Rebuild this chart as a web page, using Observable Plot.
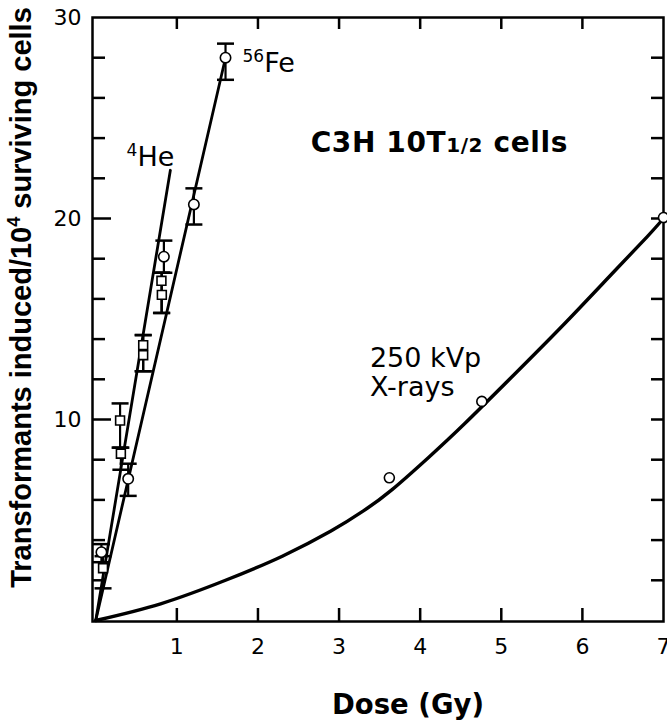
<!DOCTYPE html>
<html><head><meta charset="utf-8">
<script src="https://cdn.jsdelivr.net/npm/d3@7"></script>
<script src="https://cdn.jsdelivr.net/npm/@observablehq/plot@0.6"></script>
<style>html,body{margin:0;padding:0;background:#fff;}</style>
</head><body><div id="chart"></div>
<script>
// ---- tick values / labels ----
const xTickLabels = [1, 2, 3, 4, 5, 6, 7];
const xTickMarks = [1, 2, 3, 4, 5, 6];
const yTickLabels = [10, 20, 30];
const yMinorTicks = [2, 4, 6, 8, 12, 14, 16, 18, 22, 24, 26, 28];
const yMajorTicks = [10, 20];
const yRightTicks = [2, 4, 6, 8, 10, 12, 14, 16, 18, 20, 22, 24, 26, 28];

// ---- open circles with error bars ----
const circDose  = [0.07, 0.40, 0.84, 1.21, 1.60];
const circValue = [3.4, 7.05, 18.1, 20.7, 28.0];
const circLo    = [2.9, 6.2, 17.3, 19.7, 26.9];
const circHi    = [3.8, 7.8, 18.9, 21.5, 28.7];

// ---- open squares with error bars ----
const sqDose  = [0.09, 0.30, 0.31, 0.585, 0.585, 0.81, 0.815];
const sqValue = [2.6, 9.95, 8.3, 13.7, 13.2, 16.9, 16.2];
const sqLo    = [1.6, 8.6, 7.5, 12.4, 12.4, 15.3, 15.3];
const sqHi    = [3.2, 10.8, 8.6, 14.2, 14.2, 17.3, 17.3];

// ---- fitted straight lines ----
const heLineDose = [0, 0.92];
const heLineValue = [0, 22.4];
const feLineDose = [0, 1.60];
const feLineValue = [0, 28.0];

// ---- 250 kVp X-rays ----
const xrDose  = [3.62, 4.76, 7.0];
const xrValue = [7.1, 10.9, 20.05];
const xrCurveDose  = [0, 0.8, 1.6, 2.3, 2.9, 3.3, 3.65, 4.1, 4.55, 5.2, 5.8, 6.4, 6.8, 7.0];
const xrCurveValue = [0, 0.83, 2.0, 3.2, 4.45, 5.45, 6.5, 8.1, 9.8, 12.4, 14.85, 17.4, 19.1, 20.0];

// ---- annotations ----
const labelText = ["⁵⁶Fe", "⁴He", "250 kVp", "X-rays"];
const labelDose = [1.81, 0.38, 3.38, 3.38];
const labelValue = [27.3, 22.6, 12.6, 11.15];
const titleText = "C3H 10T1/2 cells";
const titleDose = 2.65, titleValue = 23.3;
const xTitle = "Dose (Gy)";
const yTitle = "Transformants induced/10⁴ surviving cells";

// ---- tables ----
const zip = (xs, ys) => xs.map((x, i) => ({x, y: ys[i]}));
const circles = circDose.map((d, i) => ({x: d, y: circValue[i], lo: circLo[i], hi: circHi[i]}));
const squares = sqDose.map((d, i) => ({x: d, y: sqValue[i], lo: sqLo[i], hi: sqHi[i]}));
const bars = circles.concat(squares);
const caps = bars.flatMap(b => [{x: b.x, y: b.lo}, {x: b.x, y: b.hi}]);
const labels = labelText.map((t, i) => ({t, x: labelDose[i], y: labelValue[i]}));

const capSymbol = {draw(ctx, size) { const r = Math.sqrt(size / Math.PI); ctx.moveTo(-r, 0); ctx.lineTo(r, 0); }};

const W = 667, H = 723, ML = 92, MR = 4, MT = 17, MB = 102;
const IW = W - ML - MR, IH = H - MT - MB;

const chart = Plot.plot({
  width: W, height: H,
  marginLeft: ML, marginRight: MR, marginTop: MT, marginBottom: MB,
  x: {domain: [-0.04, 7]},
  y: {domain: [-0.05, 30]},
  style: {fontFamily: "'DejaVu Sans', sans-serif", background: "#fff", color: "#000", overflow: "visible"},
  marks: [
    // inward ticks
    Plot.ruleY(yMinorTicks, {y: d => d, insetRight: IW - 13, strokeWidth: 2.5}),
    Plot.ruleY(yMajorTicks, {y: d => d, insetRight: IW - 19, strokeWidth: 2.5}),
    Plot.ruleY(yRightTicks, {y: d => d, insetLeft: IW - 12, strokeWidth: 2.5}),
    Plot.ruleX(xTickMarks, {x: d => d, insetTop: IH - 13, strokeWidth: 2.5}),
    Plot.ruleX(xTickMarks, {x: d => d, insetBottom: IH - 12, strokeWidth: 2.5}),
    Plot.frame({stroke: "#000", strokeWidth: 2.5}),
    Plot.axisX(xTickLabels, {tickSize: 0, tickPadding: 17, fontSize: 22, label: null}),
    Plot.axisY(yTickLabels, {tickSize: 0, tickPadding: 11, fontSize: 22, label: null}),
    // lines
    Plot.line(zip(heLineDose, heLineValue), {x: "x", y: "y", strokeWidth: 2.8}),
    Plot.line(zip(feLineDose, feLineValue), {x: "x", y: "y", strokeWidth: 2.8}),
    Plot.line(zip(xrCurveDose, xrCurveValue), {x: "x", y: "y", strokeWidth: 3.4, curve: "natural"}),
    // error bars
    Plot.ruleX(bars, {x: "x", y1: "lo", y2: "hi", strokeWidth: 2.2}),
    Plot.dot(caps, {x: "x", y: "y", symbol: capSymbol, r: 8.5, stroke: "#000", strokeWidth: 2.5, fill: "none"}),
    // markers
    Plot.dot(squares, {x: "x", y: "y", symbol: "square", r: 5, fill: "#fff", stroke: "#000", strokeWidth: 1.6}),
    Plot.dot(circles, {x: "x", y: "y", r: 5.2, fill: "#fff", stroke: "#000", strokeWidth: 1.6}),
    Plot.dot(zip(xrDose, xrValue), {x: "x", y: "y", r: 5, fill: "#fff", stroke: "#000", strokeWidth: 1.6}),
    // annotations
    Plot.text(labels, {x: "x", y: "y", text: "t", textAnchor: "start", lineAnchor: "bottom", fontSize: 27}),
    Plot.text([titleText], {x: () => titleDose, y: () => titleValue, text: d => d, textAnchor: "start", lineAnchor: "bottom", fontSize: 28, fontWeight: "bold"}),
    Plot.text([xTitle], {frameAnchor: "bottom", text: d => d, dx: 30, dy: 92, lineAnchor: "bottom", fontSize: 27.5, fontWeight: "bold"}),
    Plot.text([yTitle], {frameAnchor: "left", text: d => d, rotate: -90, textAnchor: "middle", dx: -71, dy: -22, fontSize: 29, fontWeight: "bold", fontFamily: "'Liberation Sans', Arial, sans-serif"})
  ]
});

const ns = "http://www.w3.org/2000/svg";
const supMap = {"⁰":"0","¹":"1","²":"2","³":"3","⁴":"4","⁵":"5","⁶":"6","⁷":"7","⁸":"8","⁹":"9"};
function rebuild(target, runs) {
  target.textContent = "";
  for (const r of runs) {
    const sp = document.createElementNS(ns, "tspan");
    sp.textContent = r.s;
    for (const [k, v] of Object.entries(r.attrs || {})) sp.setAttribute(k, v);
    target.appendChild(sp);
  }
}
function supRuns(s, supSize, shift) {
  const runs = [];
  for (const c of s) {
    const sup = !!supMap[c];
    const ch = sup ? supMap[c] : c;
    if (runs.length && runs[runs.length - 1].sup === sup) runs[runs.length - 1].s += ch;
    else runs.push({sup, s: ch});
  }
  let shifted = false;
  for (const r of runs) {
    if (r.sup) { r.attrs = {"font-size": supSize, dy: -shift}; shifted = true; }
    else if (shifted) { r.attrs = {dy: shift}; shifted = false; }
  }
  return runs;
}
chart.querySelectorAll("text").forEach(el => {
  const target = el.querySelector("tspan") || el;
  const s = target.textContent;
  if (s === titleText) {
    el.setAttribute("letter-spacing", "0.6");
    rebuild(target, [{s: "C3H 10T"}, {s: "1/2", attrs: {"font-size": 20}}, {s: " cells"}]);
  } else if ([...s].some(c => supMap[c])) {
    const big = s === yTitle;
    rebuild(target, supRuns(s, big ? 18 : 17, big ? 11 : 10));
  }
});
document.getElementById("chart").appendChild(chart);
</script>
</body></html>
